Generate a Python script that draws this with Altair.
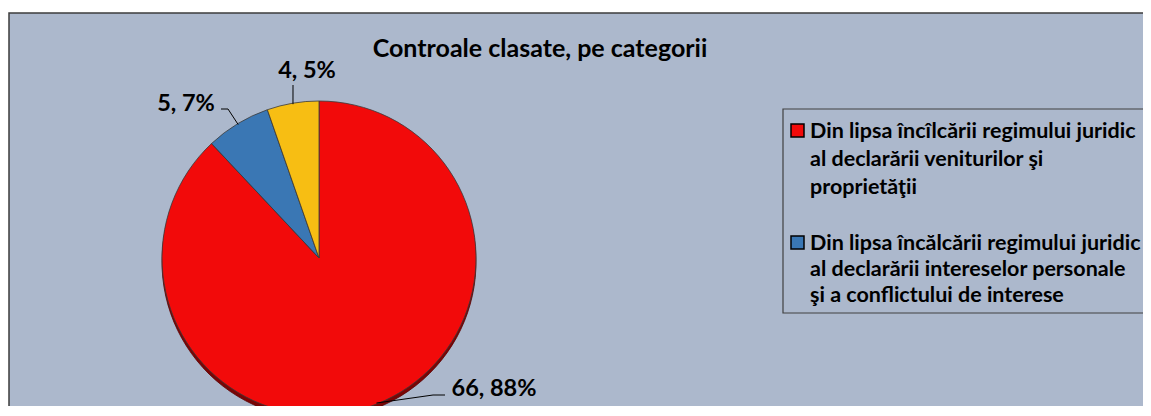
import math
import altair as alt
import pandas as pd

# ---------------- data ----------------
title_text = "Controale clasate, pe categorii"
categories = [
    "Din lipsa încîlcării regimului juridic al declarării veniturilor şi proprietăţii",
    "Din lipsa încălcării regimului juridic al declarării intereselor personale şi a conflictului de interese",
    "Alte categorii",
]
values = [66, 5, 4]
percent_labels = ["88%", "7%", "5%"]
colors = ["#F20A0A", "#3A77B4", "#F7BE13"]
legend_lines = [
    ["Din lipsa încîlcării regimului juridic", "al declarării veniturilor şi", "proprietăţii"],
    ["Din lipsa încălcării regimului juridic", "al declarării intereselor personale", "şi a conflictului de interese"],
]

# ---------------- layout ----------------
OX, OY = 9, 13            # top-left of the chart frame in the page
W, H = 1134, 393          # frame size
CX, CY, R = 319 - OX, 258 - OY, 157
BG = "#ACB8CC"
FONT = "Lato"

# label anchors (text centre x, baseline y) and leader elbow points, page coords
label_pos = [(494, 396), (186, 111), (307, 78)]
leader_elbows = [[(433, 395), (445, 395)], [(228, 109), (221, 109)], [(293, 85)]]

total = sum(values)
df = pd.DataFrame({"cat": categories, "value": values, "idx": range(len(values)),
                   "label": [f"{v}, {p}" for v, p in zip(values, percent_labels)]})

cum = 0
mids = []
for v in values:
    mids.append((cum + v / 2) / total * 2 * math.pi)
    cum += v

lbl_rows, line_rows = [], []
for i, v in enumerate(values):
    lx, ly = label_pos[i]
    lbl_rows.append({"x": lx - OX, "y": ly - OY, "text": df.label[i]})
    a = mids[i]
    ex = CX + (R - 1) * math.sin(a)
    ey = CY - (R - 1) * math.cos(a)
    pts = [(ex, ey)] + [(px - OX, py - OY) for px, py in leader_elbows[i]]
    for k, (px, py) in enumerate(pts):
        line_rows.append({"seg": i, "o": k, "x": px, "y": py})
lbl_df = pd.DataFrame(lbl_rows)
line_df = pd.DataFrame(line_rows)

color_scale = alt.Scale(domain=categories, range=colors)

frame = alt.Chart(pd.DataFrame({"a": [0]})).mark_rect(
    fill=BG, stroke="#3C3C3C", strokeWidth=1.5).encode(
    x=alt.value(0), x2=alt.value(W + 40), y=alt.value(0), y2=alt.value(H + 40))

shadow = alt.Chart(df).mark_arc(outerRadius=R, color="#7A0505", stroke="#5A0000",
                                strokeWidth=0.8).encode(
    theta=alt.Theta("value:Q", stack=True), order=alt.Order("idx:Q"),
    x=alt.value(CX), y=alt.value(CY + 4))

pie = alt.Chart(df).mark_arc(outerRadius=R, stroke="#3A3A3A", strokeWidth=0.8).encode(
    theta=alt.Theta("value:Q", stack=True),
    order=alt.Order("idx:Q"),
    color=alt.Color("cat:N", scale=color_scale, legend=None),
    x=alt.value(CX), y=alt.value(CY))

leaders = alt.Chart(line_df).mark_line(color="#000000", strokeWidth=1).encode(
    x=alt.X("x:Q", scale=None), y=alt.Y("y:Q", scale=None),
    detail="seg:N", order="o:Q")

labels = alt.Chart(lbl_df).mark_text(font=FONT, fontSize=23.5, fontWeight="bold",
                                     color="#000000", align="center",
                                     baseline="alphabetic").encode(
    x=alt.X("x:Q", scale=None), y=alt.Y("y:Q", scale=None), text="text:N")

title = alt.Chart(pd.DataFrame({"t": [title_text]})).mark_text(
    font=FONT, fontSize=25, fontWeight="bold", color="#000000",
    align="center", baseline="alphabetic").encode(
    x=alt.value(540 - OX), y=alt.value(57 - OY), text="t:N")

# legend
box = alt.Chart(pd.DataFrame({"a": [0]})).mark_rect(
    fill=BG, stroke="#404040", strokeWidth=1.2).encode(
    x=alt.value(783 - OX), x2=alt.value(W + 40), y=alt.value(109 - OY), y2=alt.value(313 - OY))

sq_rows, txt_rows = [], []
entry_top = [138, 250]
line_gap = [28, 26]
for i, lines in enumerate(legend_lines):
    sq_rows.append({"cat": categories[i], "x": 791 - OX, "x2": 804 - OX,
                    "y": entry_top[i] - 14 - OY, "y2": entry_top[i] - 1 - OY})
    for k, t in enumerate(lines):
        txt_rows.append({"x": 810 - OX, "y": entry_top[i] + k * line_gap[i] - OY, "text": t})
sq_df = pd.DataFrame(sq_rows)
txt_df = pd.DataFrame(txt_rows)

squares = alt.Chart(sq_df).mark_rect(stroke="#000000", strokeWidth=1.5).encode(
    x=alt.X("x:Q", scale=None), x2="x2:Q", y=alt.Y("y:Q", scale=None), y2="y2:Q",
    color=alt.Color("cat:N", scale=color_scale, legend=None))

leg_text = alt.Chart(txt_df).mark_text(font=FONT, fontSize=21.5, fontWeight="bold",
                                       color="#000000", align="left",
                                       baseline="alphabetic").encode(
    x=alt.X("x:Q", scale=None), y=alt.Y("y:Q", scale=None), text="text:N")

chart = alt.layer(frame, shadow, pie, leaders, labels, title, box, squares, leg_text).properties(
    width=W, height=H,
    padding={"left": 1, "top": 5, "right": 0, "bottom": 0},
    background="#FFFFFF",
    autosize=alt.AutoSizeParams(type="none"),
).configure_view(strokeWidth=0)

chart.save("out.html", embed_options={"renderer": "svg", "actions": False})
